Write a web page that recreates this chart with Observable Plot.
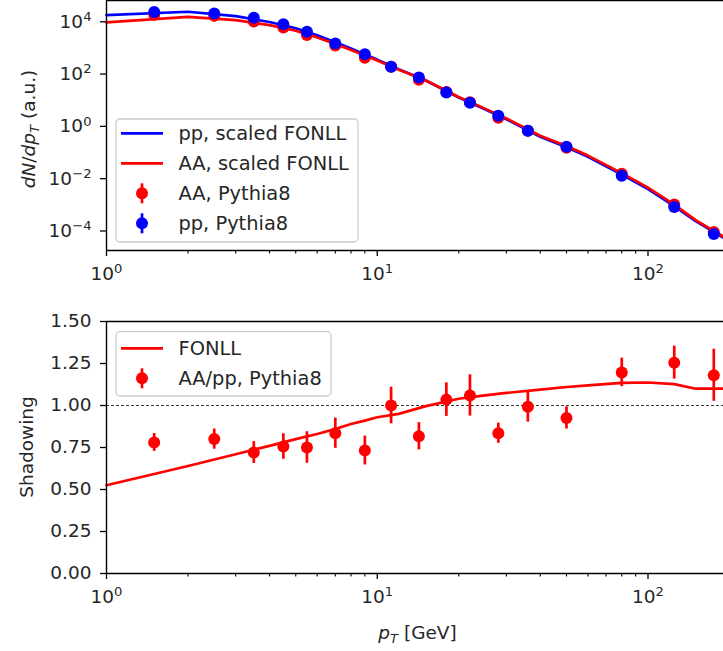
<!DOCTYPE html>
<html><head><meta charset="utf-8">
<script src="https://cdn.jsdelivr.net/npm/d3@7"></script>
<script src="https://cdn.jsdelivr.net/npm/@observablehq/plot@0.6"></script>
<style>
html,body{margin:0;padding:0;background:#fff;overflow:hidden;}
#wrap{width:723px;height:651px;overflow:hidden;position:relative;background:#fff;}
#wrap svg{display:block;}
</style></head><body><div id="wrap"></div>
<script>
// ---------- data ----------
const fonllPt   = [1,2,3,4,5,6,7,8,9,10,12,15,20,25,30,40,50,60,80,100,125,150,200];
const ppFonll   = [1.26e4,1.70e4,1.15e4,6.9e3,3.98e3,2.14e3,1.15e3,661,398,251,107,41.7,8.91,3.16,1.32,0.282,0.112,0.0479,0.0100,2.82e-3,6.31e-4,1.66e-4,2.82e-5];
const aaFonll   = [6.61e3,1.09e4,8.15e3,5.26e3,3.18e3,1.77e3,986,587,362,234,102,41.5,9.27,3.35,1.42,0.308,0.124,0.0536,0.0114,3.21e-3,7.11e-4,1.82e-4,3.10e-5];
const ratioFonll= [0.525,0.64,0.71,0.76,0.80,0.83,0.86,0.89,0.91,0.93,0.95,0.995,1.04,1.06,1.075,1.095,1.11,1.12,1.135,1.137,1.127,1.10,1.10];

const pythiaPt    = [1.5,2.5,3.5,4.5,5.5,7,9,11.25,14.25,18,22,28,36,50,80,125,175];
const ppPythia    = [1.65e4,1.47e4,1.0e4,5.6e3,2.9e3,1.04e3,400,135,52,14,5.6,1.8,0.48,0.117,9.1e-3,5.8e-4,5.4e-5];
const aaPythia    = [1.29e4,1.18e4,7.2e3,4.23e3,2.18e3,868,293,135,42.5,14.5,5.94,1.50,0.477,0.108,0.0109,7.28e-4,6.37e-5];
const ratioPythia = [0.78,0.80,0.72,0.756,0.75,0.835,0.732,1.00,0.817,1.035,1.06,0.835,0.993,0.926,1.197,1.255,1.18];
const ratioErr    = [0.053,0.06,0.065,0.076,0.094,0.09,0.086,0.109,0.081,0.10,0.123,0.06,0.092,0.066,0.085,0.098,0.155];

const xMajorTicks = [1,10,100];
const xMajorLabels = ["10^0","10^1","10^2"];
const xMinorTicks = [2,3,4,5,6,7,8,9,20,30,40,50,60,70,80,90];
const yTopTicks = [1e-4,1e-2,1,1e2,1e4];
const yTopLabels = ["10^\u22124","10^\u22122","10^0","10^2","10^4"];
const yBotTicks = [0,0.25,0.5,0.75,1.0,1.25,1.5];
const yBotLabels = ["0.00","0.25","0.50","0.75","1.00","1.25","1.50"];

const topLegend = ["pp, scaled FONLL","AA, scaled FONLL","AA, Pythia8","pp, Pythia8"];
const botLegend = ["FONLL","AA/pp, Pythia8"];

const BLUE = "#0000ff", RED = "#ff0000";
const FONT = "DejaVu Sans, sans-serif";
const FS = 18.5;
const LFS = 19.4;
const LW = 2.7;

const ppF = fonllPt.map((p,i)=>({pt:p, v:ppFonll[i]}));
const aaF = fonllPt.map((p,i)=>({pt:p, v:aaFonll[i]}));
const rF  = fonllPt.map((p,i)=>({pt:p, v:ratioFonll[i]}));
const ppP = pythiaPt.map((p,i)=>({pt:p, v:ppPythia[i]}));
const aaP = pythiaPt.map((p,i)=>({pt:p, v:aaPythia[i]}));
const rP  = pythiaPt.map((p,i)=>({pt:p, v:ratioPythia[i], e:ratioErr[i]}));

const xScale = {type:"log", domain:[1,200], range:[106,729]};
const yTopDomain = [Math.pow(10,-4.90), Math.pow(10,4.66)];

const styleObj = {fontFamily:FONT, fontSize:FS+"px", color:"#000", background:"#fff"};

function supify(svg){
  d3.select(svg).selectAll("text").each(function(){
    const t = this.textContent;
    const m = /^10\^(.+)$/.exec(t);
    if(!m) return;
    const sel = d3.select(this);
    sel.selectAll("*").remove();
    sel.text(null);
    sel.append("tspan").text("10");
    sel.append("tspan").attr("dy","-0.5em").attr("font-size","0.71em").text(m[1]);
  });
}

const topPlot = Plot.plot({
  width:723, height:300, marginLeft:106, marginRight:0, marginTop:0, marginBottom:50,
  style: styleObj,
  x: xScale,
  y: {type:"log", domain:yTopDomain, range:[250,0]},
  marks: [
    Plot.line(ppF, {x:"pt", y:"v", stroke:BLUE, strokeWidth:LW}),
    Plot.line(aaF, {x:"pt", y:"v", stroke:RED, strokeWidth:LW}),
    Plot.dot(aaP, {x:"pt", y:"v", r:6, fill:RED, stroke:"none"}),
    Plot.dot(ppP, {x:"pt", y:"v", r:6, fill:BLUE, stroke:"none"}),
    Plot.ruleX([1], {stroke:"#000", strokeWidth:1.4}),
    Plot.ruleY([yTopDomain[0]], {stroke:"#000", strokeWidth:1.4}),
    Plot.ruleY([yTopDomain[1]], {stroke:"#000", strokeWidth:1.4}),
    Plot.axisX(xMajorTicks, {anchor:"bottom", tickSize:6, tickPadding:10, strokeWidth:1.3, fill:"#262626",
      tickFormat: d => xMajorLabels[xMajorTicks.indexOf(d)], label:null}),
    Plot.axisX(xMinorTicks, {anchor:"bottom", tickSize:3.5, strokeWidth:1.1, tickFormat: () => "", label:null}),
    Plot.axisY(yTopTicks, {anchor:"left", tickSize:6, tickPadding:9, strokeWidth:1.3, fill:"#262626", dy:4,
      tickFormat: d => yTopLabels[yTopTicks.indexOf(d)], label:null})
  ]
});
supify(topPlot);

const botPlot = Plot.plot({
  width:723, height:351, marginLeft:106, marginRight:0, marginTop:21, marginBottom:78,
  style: styleObj,
  x: xScale,
  y: {domain:[0,1.5], range:[273,21]},
  marks: [
    Plot.ruleY([1], {stroke:"#222", strokeWidth:0.9, strokeDasharray:"3,2"}),
    Plot.line(rF, {x:"pt", y:"v", stroke:RED, strokeWidth:LW}),
    Plot.ruleX(rP, {x:"pt", y1:d=>d.v-d.e, y2:d=>d.v+d.e, stroke:RED, strokeWidth:LW}),
    Plot.dot(rP, {x:"pt", y:"v", r:6, fill:RED, stroke:"none"}),
    Plot.ruleX([1], {stroke:"#000", strokeWidth:1.4}),
    Plot.ruleY([0], {stroke:"#000", strokeWidth:1.4}),
    Plot.ruleY([1.5], {stroke:"#000", strokeWidth:1.4}),
    Plot.axisX(xMajorTicks, {anchor:"bottom", tickSize:6, tickPadding:10, strokeWidth:1.3, fill:"#262626",
      tickFormat: d => xMajorLabels[xMajorTicks.indexOf(d)], label:null}),
    Plot.axisX(xMinorTicks, {anchor:"bottom", tickSize:3.5, strokeWidth:1.1, tickFormat: () => "", label:null}),
    Plot.axisY(yBotTicks, {anchor:"left", tickSize:6, tickPadding:9, strokeWidth:1.3, fill:"#262626",
      tickFormat: d => yBotLabels[yBotTicks.indexOf(d)], label:null})
  ]
});
supify(botPlot);

// ---------- axis titles ----------
function addYTitle(svg, x, y, parts){
  const t = d3.select(svg).append("text")
    .attr("transform", `translate(${x},${y}) rotate(-90)`)
    .attr("text-anchor","middle").attr("font-family",FONT).attr("font-size",FS).attr("fill","#262626");
  parts(t);
}
addYTitle(topPlot, 35, 129, t => {
  t.append("tspan").attr("font-style","italic").text("dN");
  t.append("tspan").text("/");
  t.append("tspan").attr("font-style","italic").text("dp");
  t.append("tspan").attr("font-style","italic").attr("font-size","0.71em").attr("dy","0.28em").text("T");
  t.append("tspan").attr("dy","-0.2em").text(" (a.u.)");
});
addYTitle(botPlot, 33, 147, t => { t.text("Shadowing"); });

{
  const t = d3.select(botPlot).append("text")
    .attr("x", 417.5).attr("y", 339).attr("text-anchor","middle")
    .attr("font-family",FONT).attr("font-size",FS).attr("fill","#262626");
  t.append("tspan").attr("font-style","italic").text("p");
  t.append("tspan").attr("font-style","italic").attr("font-size","0.71em").attr("dy","0.28em").text("T");
  t.append("tspan").attr("dy","-0.2em").text(" [GeV]");
}

// ---------- legends ----------
function legend(svg, box, rows){
  const g = d3.select(svg).append("g").attr("text-anchor","start");
  g.append("rect").attr("x",box.x).attr("y",box.y).attr("width",box.w).attr("height",box.h)
    .attr("rx",4).attr("fill","#fff").attr("fill-opacity",0.8).attr("stroke","#cccccc").attr("stroke-width",1.3);
  rows.forEach(r => {
    if(r.kind === "line"){
      g.append("line").attr("x1",121).attr("x2",163).attr("y1",r.y).attr("y2",r.y)
        .attr("stroke",r.color).attr("stroke-width",LW);
    } else {
      g.append("line").attr("x1",142).attr("x2",142).attr("y1",r.y-10).attr("y2",r.y+10)
        .attr("stroke",r.color).attr("stroke-width",LW);
      g.append("circle").attr("cx",142).attr("cy",r.y).attr("r",6).attr("fill",r.color);
    }
    g.append("text").attr("x",178.5).attr("y",r.y+6.8).attr("text-anchor","start")
      .attr("font-family",FONT).attr("font-size",LFS)
      .attr("fill","#262626").text(r.label);
  });
}
legend(topPlot, {x:116,y:119,w:242,h:123}, [
  {kind:"line", color:BLUE, y:133.3, label:topLegend[0]},
  {kind:"line", color:RED,  y:163.3, label:topLegend[1]},
  {kind:"err",  color:RED,  y:193.3, label:topLegend[2]},
  {kind:"err",  color:BLUE, y:223.3, label:topLegend[3]}
]);
legend(botPlot, {x:116,y:31.7,w:215,h:64.3}, [
  {kind:"line", color:RED, y:48.3, label:botLegend[0]},
  {kind:"err",  color:RED, y:78.3, label:botLegend[1]}
]);

const wrap = document.getElementById("wrap");
wrap.appendChild(topPlot);
wrap.appendChild(botPlot);
</script></body></html>
